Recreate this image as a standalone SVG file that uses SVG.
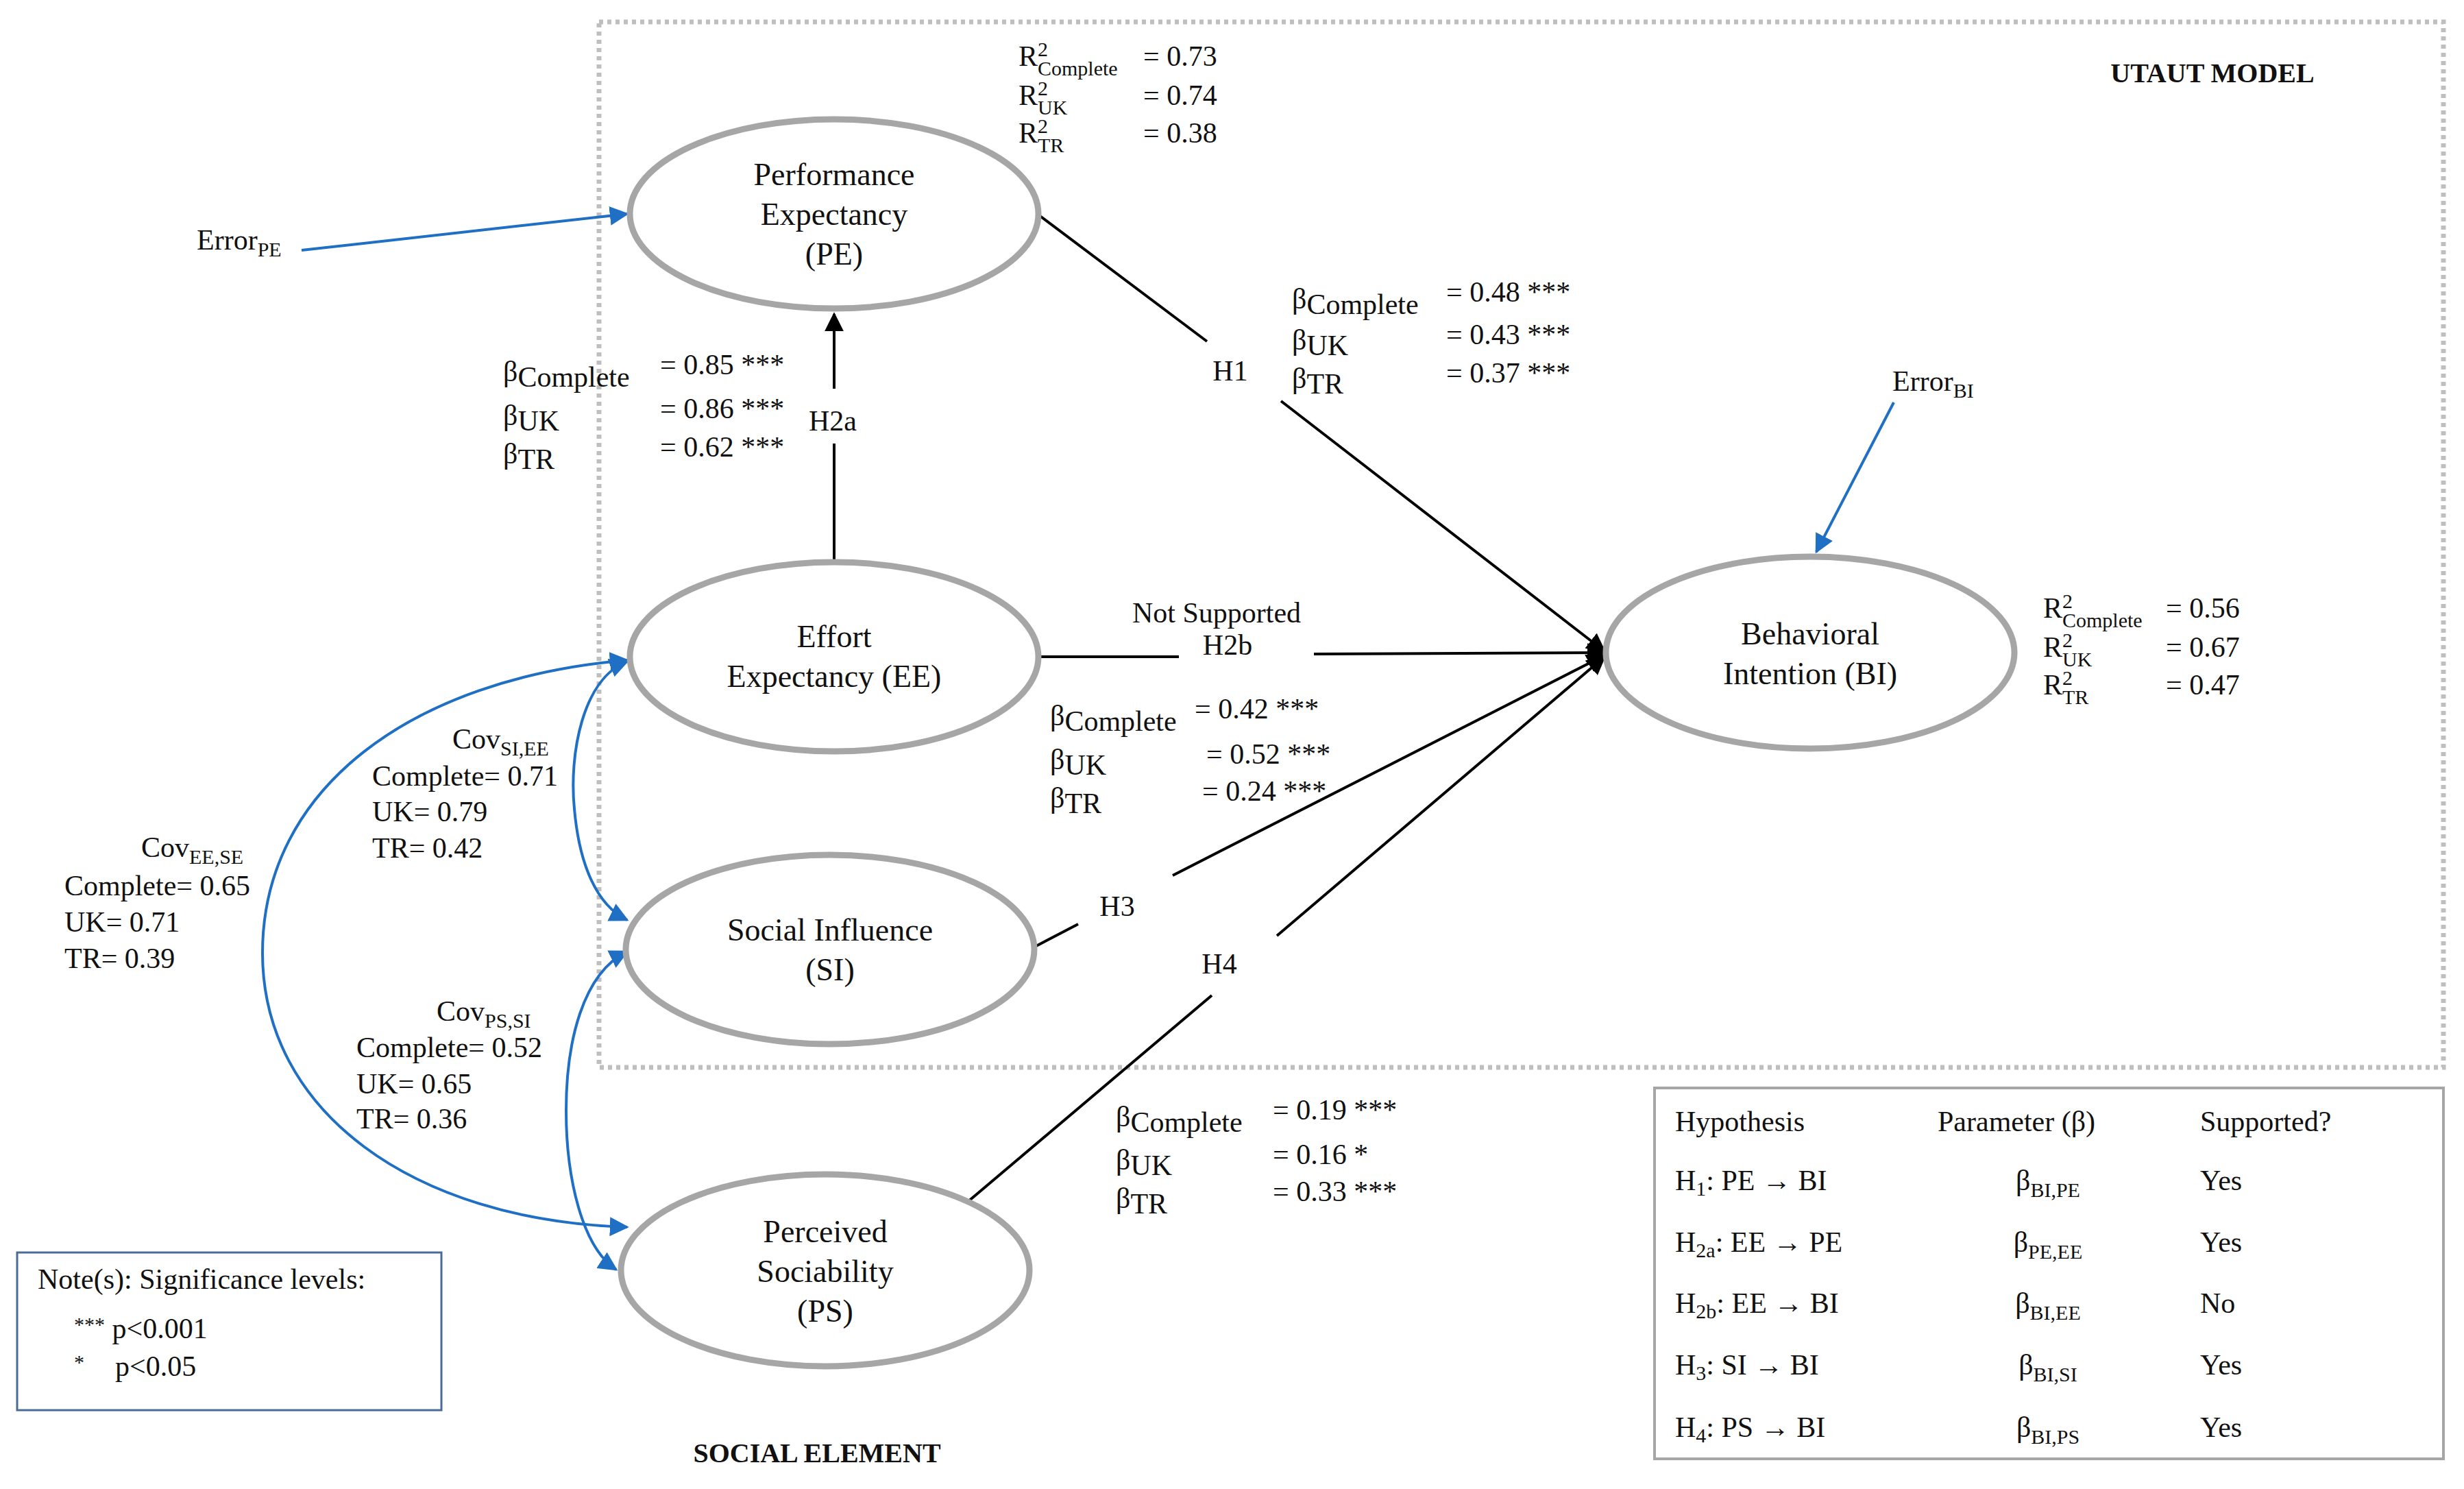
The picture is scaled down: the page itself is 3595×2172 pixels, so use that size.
<svg xmlns="http://www.w3.org/2000/svg" width="3595" height="2172" viewBox="0 0 3595 2172">
<style>
text{font-family:"Liberation Serif","DejaVu Serif",serif;fill:#111;}
.n{font-size:46px;text-anchor:middle;}
.t{font-size:42px;}
.s{font-size:30px;}
.b{font-size:40px;font-weight:bold;text-anchor:middle;}
.el{fill:#fff;stroke:#a6a6a6;stroke-width:9;}
.k{stroke:#000;stroke-width:4;fill:none;}
.bl{stroke:#1f6fc5;stroke-width:4;fill:none;}
</style>
<defs>
<marker id="ak" viewBox="0 0 10 10" refX="9" refY="5" markerWidth="7" markerHeight="7" orient="auto" markerUnits="strokeWidth"><path d="M0,0L10,5L0,10z" fill="#000"/></marker>
<marker id="ab" viewBox="0 0 10 10" refX="9" refY="5" markerWidth="7" markerHeight="7" orient="auto-start-reverse" markerUnits="strokeWidth"><path d="M0,0L10,5L0,10z" fill="#1f6fc5"/></marker>
</defs>
<rect width="3595" height="2172" fill="#fff"/>
<rect x="874" y="32" width="2691" height="1525" fill="none" stroke="#bfbfbf" stroke-width="7" stroke-dasharray="6 6"/>
<text class="b" x="3228" y="120">UTAUT MODEL</text>
<text class="b" x="1192" y="2133">SOCIAL ELEMENT</text>

<g id="connectors">
<path class="bl" d="M440,365L915,312" marker-end="url(#ab)"/>
<path class="bl" d="M2763,587L2650,805" marker-end="url(#ab)"/>
<path class="k" d="M1217,819V647"/>
<path class="k" d="M1217,567V458" marker-end="url(#ak)"/>
<path class="k" d="M1516,314L1761,498"/>
<path class="k" d="M1869,585L2341,950" marker-end="url(#ak)"/>
<path class="k" d="M1516,958H1720"/>
<path class="k" d="M1917,954L2341,952" marker-end="url(#ak)"/>
<path class="k" d="M1506,1383L1573,1348"/>
<path class="k" d="M1711,1277L2341,956" marker-end="url(#ak)"/>
<path class="k" d="M1412,1753L1768,1452"/>
<path class="k" d="M1863,1365L2341,958" marker-end="url(#ak)"/>
<path class="bl" d="M915,963C600,990 383,1150 383,1390C383,1620 600,1780 915,1790" marker-start="url(#ab)" marker-end="url(#ab)"/>
<path class="bl" d="M915,965C850,990 830,1100 838,1180C845,1260 870,1320 915,1342" marker-start="url(#ab)" marker-end="url(#ab)"/>
<path class="bl" d="M915,1388C850,1420 826,1520 826,1620C826,1720 850,1820 899,1852" marker-start="url(#ab)" marker-end="url(#ab)"/>
</g>

<g id="PE"><ellipse class="el" cx="1217" cy="312" rx="298" ry="138"/>
<text class="n" x="1217" y="270">Performance</text><text class="n" x="1217" y="328">Expectancy</text><text class="n" x="1217" y="386">(PE)</text></g>
<g id="EE"><ellipse class="el" cx="1217" cy="958" rx="298" ry="138"/>
<text class="n" x="1217" y="944">Effort</text><text class="n" x="1217" y="1002">Expectancy (EE)</text></g>
<g id="SI"><ellipse class="el" cx="1211" cy="1385" rx="298" ry="138"/>
<text class="n" x="1211" y="1372">Social Influence</text><text class="n" x="1211" y="1430">(SI)</text></g>
<g id="PS"><ellipse class="el" cx="1204" cy="1853" rx="298" ry="140"/>
<text class="n" x="1204" y="1812">Perceived</text><text class="n" x="1204" y="1870">Sociability</text><text class="n" x="1204" y="1928">(PS)</text></g>
<g id="BI"><ellipse class="el" cx="2641" cy="952" rx="298" ry="140"/>
<text class="n" x="2641" y="940">Behavioral</text><text class="n" x="2641" y="998">Intention (BI)</text></g>

<g id="labels">
<text class="t" x="287" y="364">Error<tspan class="s" dy="10">PE</tspan></text>
<text class="t" x="2761" y="570">Error<tspan class="s" dy="10">BI</tspan></text>
<text class="t" x="1215" y="628" text-anchor="middle">H2a</text>
<text class="t" x="1795" y="555" text-anchor="middle">H1</text>
<text class="t" x="1775" y="908" text-anchor="middle">Not Supported</text>
<text class="t" x="1791" y="955" text-anchor="middle">H2b</text>
<text class="t" x="1630" y="1336" text-anchor="middle">H3</text>
<text class="t" x="1779" y="1420" text-anchor="middle">H4</text>

<text class="t" x="734" y="556">β<tspan dy="8">Complete</tspan></text><text class="t" x="963" y="546">= 0.85 ***</text>
<text class="t" x="734" y="620">β<tspan dy="8">UK</tspan></text><text class="t" x="963" y="610">= 0.86 ***</text>
<text class="t" x="734" y="676">β<tspan dy="8">TR</tspan></text><text class="t" x="963" y="666">= 0.62 ***</text>

<text class="t" x="1885" y="450">β<tspan dy="8">Complete</tspan></text><text class="t" x="2110" y="440">= 0.48 ***</text>
<text class="t" x="1885" y="510">β<tspan dy="8">UK</tspan></text><text class="t" x="2110" y="502">= 0.43 ***</text>
<text class="t" x="1885" y="566">β<tspan dy="8">TR</tspan></text><text class="t" x="2110" y="558">= 0.37 ***</text>

<text class="t" x="1532" y="1058">β<tspan dy="8">Complete</tspan></text><text class="t" x="1743" y="1048">= 0.42 ***</text>
<text class="t" x="1532" y="1122">β<tspan dy="8">UK</tspan></text><text class="t" x="1760" y="1114">= 0.52 ***</text>
<text class="t" x="1532" y="1178">β<tspan dy="8">TR</tspan></text><text class="t" x="1754" y="1168">= 0.24 ***</text>

<text class="t" x="1628" y="1643">β<tspan dy="8">Complete</tspan></text><text class="t" x="1857" y="1633">= 0.19 ***</text>
<text class="t" x="1628" y="1706">β<tspan dy="8">UK</tspan></text><text class="t" x="1857" y="1698">= 0.16 *</text>
<text class="t" x="1628" y="1762">β<tspan dy="8">TR</tspan></text><text class="t" x="1857" y="1752">= 0.33 ***</text>

<text class="t" x="1486" y="96">R<tspan class="s" dy="-14">2</tspan><tspan class="s" dx="-15" dy="28">Complete</tspan></text><text class="t" x="1668" y="96">= 0.73</text>
<text class="t" x="1486" y="153">R<tspan class="s" dy="-14">2</tspan><tspan class="s" dx="-15" dy="28">UK</tspan></text><text class="t" x="1668" y="153">= 0.74</text>
<text class="t" x="1486" y="208">R<tspan class="s" dy="-14">2</tspan><tspan class="s" dx="-15" dy="28">TR</tspan></text><text class="t" x="1668" y="208">= 0.38</text>

<text class="t" x="2981" y="901">R<tspan class="s" dy="-14">2</tspan><tspan class="s" dx="-15" dy="28">Complete</tspan></text><text class="t" x="3160" y="901">= 0.56</text>
<text class="t" x="2981" y="958">R<tspan class="s" dy="-14">2</tspan><tspan class="s" dx="-15" dy="28">UK</tspan></text><text class="t" x="3160" y="958">= 0.67</text>
<text class="t" x="2981" y="1013">R<tspan class="s" dy="-14">2</tspan><tspan class="s" dx="-15" dy="28">TR</tspan></text><text class="t" x="3160" y="1013">= 0.47</text>

<text class="t" x="660" y="1092">Cov<tspan class="s" dy="10">SI,EE</tspan></text>
<text class="t" x="543" y="1146">Complete= 0.71</text><text class="t" x="543" y="1198">UK= 0.79</text><text class="t" x="543" y="1251">TR= 0.42</text>
<text class="t" x="206" y="1250">Cov<tspan class="s" dy="10">EE,SE</tspan></text>
<text class="t" x="94" y="1306">Complete= 0.65</text><text class="t" x="94" y="1359">UK= 0.71</text><text class="t" x="94" y="1412">TR=  0.39</text>
<text class="t" x="637" y="1489">Cov<tspan class="s" dy="10">PS,SI</tspan></text>
<text class="t" x="520" y="1542">Complete= 0.52</text><text class="t" x="520" y="1595">UK= 0.65</text><text class="t" x="520" y="1646">TR= 0.36</text>
</g>

<g id="note">
<rect x="25" y="1827" width="619" height="230" fill="none" stroke="#4a6a9a" stroke-width="3"/>
<text class="t" x="55" y="1880">Note(s): Significance levels:</text>
<text class="t" x="108" y="1952"><tspan class="s" dy="-10">***</tspan><tspan dy="10"> p&lt;0.001</tspan></text>
<text class="t" x="108" y="2007"><tspan class="s" dy="-10">*</tspan><tspan x="168" dy="10">p&lt;0.05</tspan></text>
</g>

<g id="table">
<rect x="2414" y="1587" width="1151" height="541" fill="none" stroke="#a6a6a6" stroke-width="4"/>
<text class="t" x="2444" y="1650">Hypothesis</text><text class="t" x="2827" y="1650">Parameter (β)</text><text class="t" x="3210" y="1650">Supported?</text>
<text class="t" x="2444" y="1736">H<tspan class="s" dy="8">1</tspan><tspan dy="-8">: PE → BI</tspan></text><text class="t" x="2988" y="1736" text-anchor="middle">β<tspan class="s" dy="10">BI,PE</tspan></text><text class="t" x="3210" y="1736">Yes</text>
<text class="t" x="2444" y="1826">H<tspan class="s" dy="8">2a</tspan><tspan dy="-8">: EE → PE</tspan></text><text class="t" x="2988" y="1826" text-anchor="middle">β<tspan class="s" dy="10">PE,EE</tspan></text><text class="t" x="3210" y="1826">Yes</text>
<text class="t" x="2444" y="1915">H<tspan class="s" dy="8">2b</tspan><tspan dy="-8">: EE → BI</tspan></text><text class="t" x="2988" y="1915" text-anchor="middle">β<tspan class="s" dy="10">BI,EE</tspan></text><text class="t" x="3210" y="1915">No</text>
<text class="t" x="2444" y="2005">H<tspan class="s" dy="8">3</tspan><tspan dy="-8">: SI → BI</tspan></text><text class="t" x="2988" y="2005" text-anchor="middle">β<tspan class="s" dy="10">BI,SI</tspan></text><text class="t" x="3210" y="2005">Yes</text>
<text class="t" x="2444" y="2096">H<tspan class="s" dy="8">4</tspan><tspan dy="-8">: PS → BI</tspan></text><text class="t" x="2988" y="2096" text-anchor="middle">β<tspan class="s" dy="10">BI,PS</tspan></text><text class="t" x="3210" y="2096">Yes</text>
</g>
</svg>
